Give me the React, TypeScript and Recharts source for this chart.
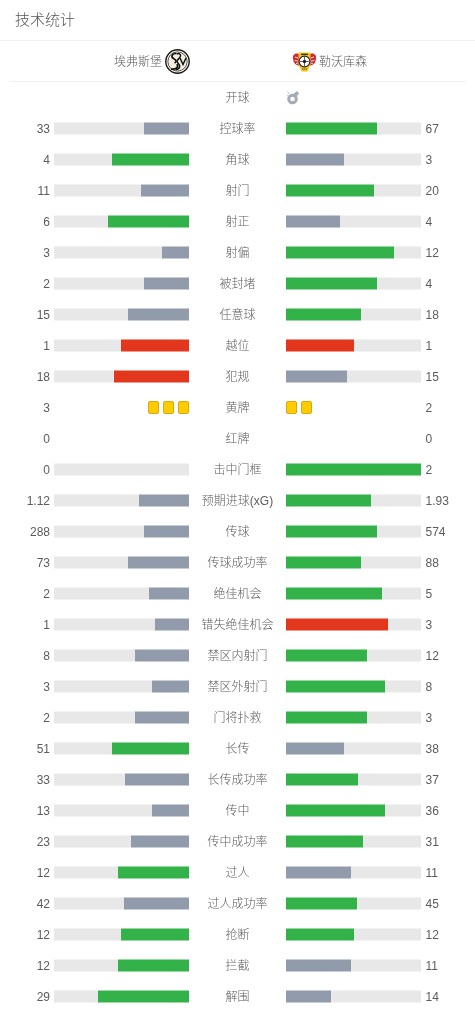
import React from 'react';
import { BarChart, Bar, XAxis, YAxis, Cell } from 'recharts';

const categories = ['开球','控球率','角球','射门','射正','射偏','被封堵','任意球','越位','犯规','黄牌','红牌','击中门框','预期进球(xG)','传球','传球成功率','绝佳机会','错失绝佳机会','禁区内射门','禁区外射门','门将扑救','长传','长传成功率','传中','传中成功率','过人','过人成功率','抢断','拦截','解围'];
const homeLabels = ['','33','4','11','6','3','2','15','1','18','3','0','0','1.12','288','73','2','1','8','3','2','51','33','13','23','12','42','12','12','29'];
const awayLabels = ['','67','3','20','4','12','4','18','1','15','2','0','2','1.93','574','88','5','3','12','8','3','38','37','36','31','11','45','12','11','14'];
const homeBars = [null,33,4,11,6,3,2,15,1,18,null,null,0,1.12,288,73,2,1,8,3,2,51,33,13,23,12,42,12,12,29];
const awayBars = [null,67,3,20,4,12,4,18,1,15,null,null,2,1.93,574,88,5,3,12,8,3,38,37,36,31,11,45,12,11,14];
const homeCards = [null,null,null,null,null,null,null,null,null,null,3,null,null,null,null,null,null,null,null,null,null,null,null,null,null,null,null,null,null,null];
const awayCards = [null,null,null,null,null,null,null,null,null,null,2,null,null,null,null,null,null,null,null,null,null,null,null,null,null,null,null,null,null,null];
const negativeCategories = ['越位','犯规','错失绝佳机会'];

const GREEN = '#33b249';
const GRAY = '#929bab';
const RED = '#e2371d';
const TRACK = '#e8e8e8';
const TEXT = '#5c5c5c';
const FONT = '"Liberation Sans", "Noto Sans CJK SC", sans-serif';
const BAR_TRACK_WIDTH = 135;

const rows = categories.map((category, i) => ({
  category,
  home: homeBars[i],
  away: awayBars[i],
  homeCards: homeCards[i],
  awayCards: awayCards[i],
}));

const barColor = (own: number | null, other: number | null, category: string) => {
  if (own == null || other == null) return GRAY;
  if (own < other) return GRAY;
  return negativeCategories.includes(category) ? RED : GREEN;
};

// The reference rounds each share to a whole percent and snaps the bar to whole pixels.
const snapWidth = (w: number) => Math.ceil((Math.round((w / BAR_TRACK_WIDTH) * 100) * BAR_TRACK_WIDTH) / 100 - 0.1);

const snappedShape = (side: 'home' | 'away') => (props: any) => {
  const w = Math.abs(props.width);
  if (!w) return null;
  const snapped = snapWidth(w);
  const lo = Math.min(props.x, props.x + props.width);
  const hi = Math.max(props.x, props.x + props.width);
  const x = side === 'home' ? hi - snapped : lo;
  return <rect x={x} y={props.y} width={snapped} height={props.height} fill={props.fill} />;
};

const trackShape = (side: 'home' | 'away') => (props: any) => {
  const w = Math.abs(props.width);
  if (!w) return null;
  const lo = Math.min(props.x, props.x + props.width);
  const hi = Math.max(props.x, props.x + props.width);
  const snapped = BAR_TRACK_WIDTH - snapWidth(BAR_TRACK_WIDTH - w);
  const x = side === 'home' ? lo : hi - snapped;
  return <rect x={x} y={props.y} width={snapped} height={props.height} fill={props.fill} />;
};

const CardShape = (side: 'home' | 'away') => (props: any) => {
  const count = props.payload?.[side === 'home' ? 'homeCards' : 'awayCards'];
  if (!count) return null;
  const lo = Math.min(props.x, props.x + props.width);
  const hi = Math.max(props.x, props.x + props.width);
  const cy = props.y + props.height / 2;
  return (
    <g>
      {Array.from({ length: count }, (_, i) => {
        const x = side === 'home' ? hi - 11 - i * 15 : lo + i * 15;
        return <rect key={i} x={x + 0.5} y={cy - 6} width={10} height={12} rx={1.5} fill="#ffcc00" stroke="#d9a90f" strokeWidth={1} />;
      })}
    </g>
  );
};

const axisText = { fontSize: 12, fill: TEXT, fontFamily: FONT, fontWeight: 300, dy: 0.6 };

const HomeChart = () => (
  <BarChart width={189} height={1012} data={rows} layout="vertical" stackOffset="expand" barSize={12}
    margin={{ top: 81.5, bottom: 0.5, left: 0, right: 0 }} style={{ position: 'absolute', left: 0, top: 0 }}>
    <XAxis type="number" hide reversed domain={[0, 1]} />
    <YAxis type="category" dataKey="category" width={54} interval={0} axisLine={false} tickLine={false} tickSize={0} tickMargin={4}
      tick={axisText} tickFormatter={(_: string, i: number) => homeLabels[i]} />
    <Bar dataKey="home" stackId="s" isAnimationActive={false} shape={snappedShape('home')}>
      {rows.map((r) => <Cell key={r.category} fill={barColor(r.home, r.away, r.category)} />)}
    </Bar>
    <Bar dataKey="away" stackId="s" fill={TRACK} isAnimationActive={false} shape={trackShape('home')} />
    <Bar dataKey="homeCards" stackId="s" isAnimationActive={false} shape={CardShape('home')} />
  </BarChart>
);

const AwayChart = () => (
  <BarChart width={286} height={1012} data={rows} layout="vertical" stackOffset="expand" barSize={12}
    margin={{ top: 81.5, bottom: 0.5, left: 0, right: 0 }} style={{ position: 'absolute', left: 189, top: 0 }}>
    <XAxis type="number" hide domain={[0, 1]} />
    <YAxis yAxisId="cat" type="category" dataKey="category" width={97} interval={0} axisLine={false} tickLine={false} tickSize={0} tickMargin={48.5}
      tick={{ ...axisText, textAnchor: 'middle' }} />
    <YAxis yAxisId="val" orientation="right" type="category" dataKey="category" width={54} interval={0} axisLine={false} tickLine={false} tickSize={0} tickMargin={4.5}
      tick={axisText} tickFormatter={(_: string, i: number) => awayLabels[i]} />
    <Bar yAxisId="cat" dataKey="away" stackId="s" isAnimationActive={false} shape={snappedShape('away')}>
      {rows.map((r) => <Cell key={r.category} fill={barColor(r.away, r.home, r.category)} />)}
    </Bar>
    <Bar yAxisId="cat" dataKey="home" stackId="s" fill={TRACK} isAnimationActive={false} shape={trackShape('away')} />
    <Bar yAxisId="cat" dataKey="awayCards" stackId="s" isAnimationActive={false} shape={CardShape('away')} />
  </BarChart>
);

const HomeLogo = () => (
  <svg width={25} height={25} viewBox="0 0 25 25" style={{ position: 'absolute', left: 165, top: 49 }}>
    <circle cx={12.5} cy={12.5} r={11.7} fill="#f4efe2" stroke="#1a1a1a" strokeWidth={1.4} />
    <circle cx={12.5} cy={12.5} r={9.6} fill="none" stroke="#1a1a1a" strokeWidth={0.7} />
    <path d="M11 4.5C6.5 4.5 6 8 8.5 9.5C11.5 11 12 13 9.5 14M6 20C11 21 14 18 12 15" fill="none" stroke="#111" strokeWidth={1.7} />
    <path d="M11.5 5C14 4 16 5 15.5 7C15 10 10 11 13 14C15 16 16 20 11 20.5" fill="none" stroke="#111" strokeWidth={1.5} />
    <path d="M15 9L18 15.5L21 9" fill="none" stroke="#111" strokeWidth={1.5} />
  </svg>
);

const AwayLogo = () => (
  <svg width={25} height={20} viewBox="0 0 25 20" style={{ position: 'absolute', left: 291.5, top: 51.5 }}>
    <path d="M1 6C0.5 3 3 1 6 1.5L8 3V14L5 13C2 12 1 9 1 6ZM24 6C24.5 3 22 1 19 1.5L17 3V14L20 13C23 12 24 9 24 6Z" fill="#d8262c" />
    <path d="M3 5L6 6M2.5 8.5L6 9M4 11.5L6.5 11M22 5L19 6M22.5 8.5L19 9M21 11.5L18.5 11" stroke="#f5d4d4" strokeWidth={1.1} />
    <path d="M6.5 0.5H18.5V12.5L15.5 19.5H9.5L6.5 12.5Z" fill="#f5c518" />
    <circle cx={12.5} cy={9.5} r={5.4} fill="#fff" stroke="#222" strokeWidth={1.1} />
    <path d="M12.5 5V14M8 9.5H17" stroke="#555" strokeWidth={0.9} />
    <circle cx={12.5} cy={9.5} r={1.7} fill="#222" />
    <path d="M9 2.3H16" stroke="#222" strokeWidth={1.2} />
    <path d="M10 17H15" stroke="#8a6d10" strokeWidth={1} />
  </svg>
);

const Whistle = () => (
  <svg width={14} height={15} viewBox="0 0 14 15" style={{ position: 'absolute', left: 286, top: 90 }}>
    <circle cx={6.5} cy={9} r={3.8} fill="none" stroke="#a4acb8" strokeWidth={3} />
    <path d="M6 5L11 1L13 3.5L9.5 8Z" fill="#a4acb8" />
    <path d="M1.5 1.5L3 4M1 5.5L2.5 6" stroke="#c6ccd4" strokeWidth={1.2} />
  </svg>
);

const Header = () => (
  <>
    <div style={{ position: 'absolute', left: 15, top: 10, height: 20, lineHeight: '20px', fontSize: 15, color: '#555', fontWeight: 300 }}>技术统计</div>
    <div style={{ position: 'absolute', left: 0, top: 40, width: 475, height: 1, background: '#f0f0f0' }} />
    <div style={{ position: 'absolute', left: 114, top: 53, height: 18, lineHeight: '18px', fontSize: 12, color: TEXT, fontWeight: 300 }}>埃弗斯堡</div>
    <HomeLogo />
    <AwayLogo />
    <div style={{ position: 'absolute', left: 319, top: 53, height: 18, lineHeight: '18px', fontSize: 12, color: TEXT, fontWeight: 300 }}>勒沃库森</div>
    <div style={{ position: 'absolute', left: 10, top: 81, width: 456, height: 1, background: '#f0f0f0' }} />
    <Whistle />
  </>
);

export default function App() {
  return (
    <div style={{ position: 'absolute', left: 0, top: 0, width: 475, height: 1012, fontFamily: FONT, overflow: 'hidden', willChange: 'transform' }}>
      <Header />
      <HomeChart />
      <AwayChart />
    </div>
  );
}
